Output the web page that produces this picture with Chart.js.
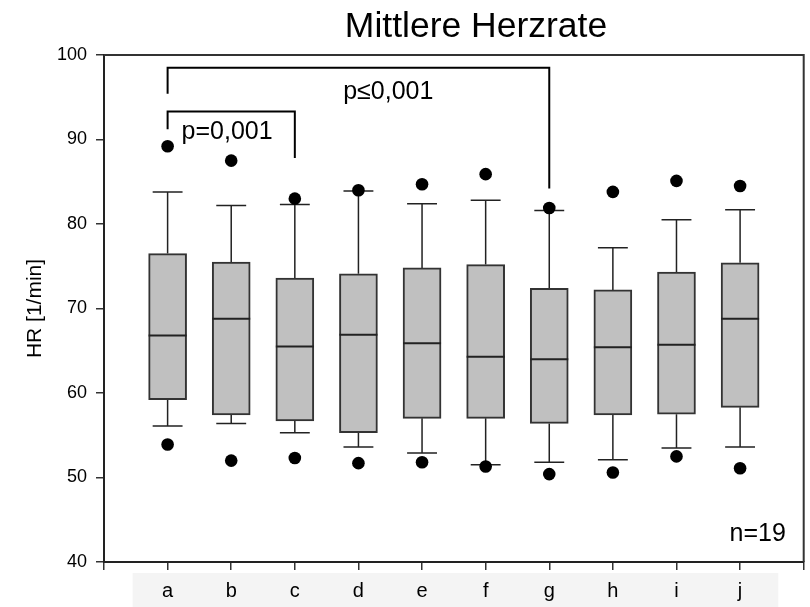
<!DOCTYPE html>
<html>
<head>
<meta charset="utf-8">
<title>Mittlere Herzrate</title>
<script src="https://cdn.jsdelivr.net/npm/chart.js@4.4.1/dist/chart.umd.min.js"></script>
<style>
  html, body { margin: 0; padding: 0; background: #fff; }
  #wrap { width: 810px; height: 607px; }
</style>
</head>
<body>
<div id="wrap"><canvas id="hrChart" width="810" height="607"></canvas></div>
<script>
// groups a..j, heart rate box plot statistics [1/min]
const groups = ['a', 'b', 'c', 'd', 'e', 'f', 'g', 'h', 'i', 'j'];
const whiskerHigh = [83.8, 82.2, 82.3, 83.9, 82.4, 82.8, 81.6, 77.2, 80.5, 81.7];
const q3 = [76.5, 75.5, 73.6, 74.1, 74.8, 75.2, 72.4, 72.2, 74.3, 75.4];
const medians = [66.8, 68.8, 65.5, 66.9, 65.9, 64.3, 64.0, 65.4, 65.7, 68.8];
const q1 = [59.2, 57.4, 56.7, 55.3, 57.0, 57.0, 56.4, 57.4, 57.5, 58.3];
const whiskerLow = [56.1, 56.4, 55.3, 53.6, 52.9, 51.5, 51.8, 52.1, 53.5, 53.6];
const outlierHigh = [89.2, 87.5, 83.0, 84.0, 84.7, 85.9, 81.9, 83.8, 85.1, 84.5];
const outlierLow = [53.9, 52.0, 52.3, 51.7, 51.8, 51.3, 50.4, 50.6, 52.5, 51.1];

// significance brackets: [x, y] corners
const bracketAC = [[1, 91.2], [1, 93.3], [3, 93.3], [3, 87.8]];
const bracketAG = [[1, 95.4], [1, 98.5], [7, 98.5], [7, 84.2]];

const FONT = "'Liberation Sans', Arial, Helvetica, sans-serif";

const boxData = groups.map((g, i) => ({ x: i + 1, y: [q1[i], q3[i]] }));
const outlierData = groups.flatMap((g, i) => [
    { x: i + 1, y: outlierHigh[i] },
    { x: i + 1, y: outlierLow[i] }
]);

// whiskers behind boxes, medians and text on top
const boxPlotExtras = {
    id: 'boxPlotExtras',
    beforeDraw(chart) {
        const { ctx, scales: { x }, chartArea } = chart;
        // light band behind the group labels
        ctx.save();
        ctx.fillStyle = '#f4f4f4';
        const left = x.getPixelForValue(0.45);
        const right = x.getPixelForValue(10.6);
        ctx.fillRect(left, chartArea.bottom + 11, right - left, 607 - chartArea.bottom - 11);
        ctx.restore();
    },
    beforeDatasetsDraw(chart) {
        const { ctx, scales: { x, y } } = chart;
        ctx.save();
        ctx.strokeStyle = '#222';
        ctx.lineWidth = 1.5;
        groups.forEach((g, i) => {
            const cx = x.getPixelForValue(i + 1);
            const half = (x.getPixelForValue(1.235) - x.getPixelForValue(1));
            ctx.beginPath();
            ctx.moveTo(cx, y.getPixelForValue(q3[i]));
            ctx.lineTo(cx, y.getPixelForValue(whiskerHigh[i]));
            ctx.moveTo(cx - half, y.getPixelForValue(whiskerHigh[i]));
            ctx.lineTo(cx + half, y.getPixelForValue(whiskerHigh[i]));
            ctx.moveTo(cx, y.getPixelForValue(q1[i]));
            ctx.lineTo(cx, y.getPixelForValue(whiskerLow[i]));
            ctx.moveTo(cx - half, y.getPixelForValue(whiskerLow[i]));
            ctx.lineTo(cx + half, y.getPixelForValue(whiskerLow[i]));
            ctx.stroke();
        });
        ctx.restore();
    },
    afterDatasetsDraw(chart) {
        const { ctx, scales: { x, y }, chartArea } = chart;
        const boxes = chart.getDatasetMeta(0).data;
        ctx.save();
        ctx.strokeStyle = '#222';
        ctx.lineWidth = 2;
        boxes.forEach((bar, i) => {
            const my = y.getPixelForValue(medians[i]);
            ctx.beginPath();
            ctx.moveTo(bar.x - bar.width / 2, my);
            ctx.lineTo(bar.x + bar.width / 2, my);
            ctx.stroke();
        });

        // frame top and right
        ctx.strokeStyle = '#333';
        ctx.lineWidth = 2;
        ctx.beginPath();
        ctx.moveTo(chartArea.left, chartArea.top);
        ctx.lineTo(chartArea.right, chartArea.top);
        ctx.lineTo(chartArea.right, chartArea.bottom);
        ctx.stroke();

        // texts
        ctx.fillStyle = '#000';
        ctx.textBaseline = 'alphabetic';
        ctx.font = '35.5px ' + FONT;
        ctx.textAlign = 'center';
        ctx.fillText('Mittlere Herzrate', 476, 37);

        ctx.font = '25px ' + FONT;
        ctx.textAlign = 'left';
        ctx.fillText('p=0,001', x.getPixelForValue(1.22), y.getPixelForValue(90.1));
        ctx.fillText('p\u22640,001', x.getPixelForValue(3.76), y.getPixelForValue(94.8));
        ctx.textAlign = 'right';
        ctx.fillText('n=19', x.getPixelForValue(10.72), y.getPixelForValue(42.5));
        ctx.restore();
    }
};

const ctx = document.getElementById('hrChart').getContext('2d');

new Chart(ctx, {
    type: 'bar',
    data: {
        datasets: [
            {
                type: 'bar',
                data: boxData,
                backgroundColor: '#c0c0c0',
                borderColor: '#333',
                borderWidth: 2,
                borderSkipped: false,
                barThickness: 38,
                order: 3
            },
            {
                type: 'scatter',
                data: outlierData,
                pointRadius: 6.3,
                pointBackgroundColor: '#000',
                pointBorderWidth: 0,
                order: 1
            },
            {
                type: 'line',
                data: bracketAC.map(p => ({ x: p[0], y: p[1] })),
                borderColor: '#000',
                borderWidth: 2,
                pointRadius: 0,
                tension: 0,
                order: 2
            },
            {
                type: 'line',
                data: bracketAG.map(p => ({ x: p[0], y: p[1] })),
                borderColor: '#000',
                borderWidth: 2,
                pointRadius: 0,
                tension: 0,
                order: 2
            }
        ]
    },
    options: {
        responsive: false,
        animation: false,
        layout: { padding: { top: 55, right: 4, left: 0, bottom: 0 } },
        plugins: {
            legend: { display: false },
            tooltip: { enabled: false },
            title: { display: false }
        },
        scales: {
            x: {
                type: 'linear',
                min: 0,
                max: 11,
                offset: false,
                afterFit: s => {
                    s.height = 45;
                    s.paddingLeft = 0;
                    s.paddingRight = 0;
                },
                afterBuildTicks: s => {
                    s.ticks = Array.from({ length: 12 }, (v, k) => ({ value: k }));
                },
                ticks: {
                    stepSize: 1,
                    autoSkip: false,
                    maxRotation: 0,
                    padding: 9,
                    color: '#000',
                    font: { family: FONT, size: 20 },
                    callback: v => (v >= 1 && v <= 10 ? groups[v - 1] : '')
                },
                grid: {
                    offset: false,
                    drawOnChartArea: false,
                    drawTicks: true,
                    tickLength: 8,
                    color: '#333',
                    lineWidth: 1.5
                },
                border: { color: '#222', width: 2 }
            },
            y: {
                min: 40,
                max: 100,
                afterFit: s => { s.width = 104; },
                ticks: {
                    stepSize: 10,
                    padding: 9,
                    color: '#000',
                    font: { family: FONT, size: 18 }
                },
                grid: {
                    drawOnChartArea: false,
                    drawTicks: true,
                    tickLength: 8,
                    color: '#333',
                    lineWidth: 1.5
                },
                border: { color: '#222', width: 2 },
                title: {
                    display: true,
                    text: 'HR [1/min]',
                    color: '#000',
                    font: { family: FONT, size: 21 },
                    padding: { top: 23, bottom: 0 }
                }
            }
        }
    },
    plugins: [boxPlotExtras]
});
</script>
</body>
</html>
